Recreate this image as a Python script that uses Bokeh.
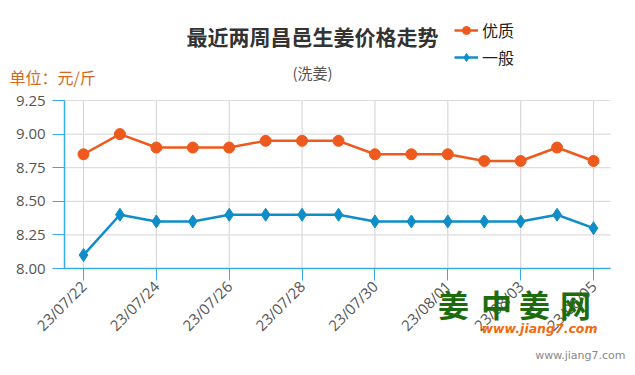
import math
from bokeh.plotting import figure
from bokeh.models import (Label, Legend, LegendItem, FixedTicker, Range1d,
                          NumeralTickFormatter)
from bokeh.embed import file_html
from bokeh.resources import INLINE

dates = ["23/07/22", "23/07/23", "23/07/24", "23/07/25", "23/07/26", "23/07/27",
         "23/07/28", "23/07/29", "23/07/30", "23/07/31", "23/08/01", "23/08/02",
         "23/08/03", "23/08/04", "23/08/05"]
youzhi = [8.85, 9.00, 8.90, 8.90, 8.90, 8.95, 8.95, 8.95, 8.85, 8.85, 8.85, 8.80, 8.80, 8.90, 8.80]
yiban = [8.10, 8.40, 8.35, 8.35, 8.40, 8.40, 8.40, 8.40, 8.35, 8.35, 8.35, 8.35, 8.35, 8.40, 8.30]
y_ticks = [8.00, 8.25, 8.50, 8.75, 9.00, 9.25]

ORANGE = "#ee5a1d"
BLUE = "#0e8dc8"
AXIS = "#35ade2"
CJK = "Noto Sans CJK SC"

xs = list(range(len(dates)))
x_ticks = xs[::2]
X_LO, X_HI = -0.52, 14.47
Y_LO, Y_HI = y_ticks[0], y_ticks[-1]

# pixel <-> data helpers for placing annotations (frame covers whole canvas)
PX0, PXD = 83.0, 36.43   # px of x=0, px per day
PY0, PYD = 268.0, 134.4  # px of y=8.00, px per 1.0

def X(px):
    return (px - PX0) / PXD

def Y(py):
    return Y_LO + (PY0 - py) / PYD

p = figure(width=635, height=375, output_backend="svg", toolbar_location=None,
           x_range=Range1d(X(0), X(635)), y_range=Range1d(Y(375), Y(0)),
           min_border=0)
p.outline_line_color = None
p.background_fill_color = "white"
p.border_fill_color = "white"
p.xgrid.visible = False
p.ygrid.visible = False

# grid lines limited to the plotting area
p.segment(x0=x_ticks, y0=[Y_LO] * len(x_ticks), x1=x_ticks, y1=[Y_HI] * len(x_ticks),
          line_color="#d8d8d8", line_width=1.2, level="underlay")
p.segment(x0=[X_LO] * len(y_ticks), y0=y_ticks, x1=[X_HI] * len(y_ticks), y1=y_ticks,
          line_color="#dddddd", line_width=1.2, level="underlay")

# axes
xa, ya = p.xaxis[0], p.yaxis[0]
xa.fixed_location = Y_LO
ya.fixed_location = X_LO
xa.bounds = (X_LO, X_HI)
ya.bounds = (Y_LO, Y_HI)
xa.ticker = FixedTicker(ticks=x_ticks)
xa.major_label_overrides = {i: dates[i] for i in xs}
xa.major_label_orientation = math.pi / 4
ya.ticker = FixedTicker(ticks=y_ticks)
ya.formatter = NumeralTickFormatter(format="0.00")
for ax in (xa, ya):
    ax.axis_line_color = AXIS
    ax.axis_line_width = 1.5
    ax.major_tick_line_color = AXIS
    ax.major_tick_out = 12
    ax.major_tick_in = 0
    ax.minor_tick_line_color = None
    ax.major_label_text_color = "#555555"
    ax.major_label_text_font = "Open Sans"
    ax.major_label_text_font_size = "15px"
    ax.major_label_standoff = 3
ya.major_label_standoff = 7

l1 = p.line(xs, youzhi, line_color=ORANGE, line_width=2.5)
s1 = p.scatter(xs, youzhi, marker="circle", size=11, fill_color=ORANGE, line_color=ORANGE)
l2 = p.line(xs, yiban, line_color=BLUE, line_width=2.5)
s2 = p.scatter(xs, yiban, marker="diamond", size=13, fill_color=BLUE, line_color=BLUE)

legend = Legend(items=[LegendItem(label="优质", renderers=[l1, s1]),
                       LegendItem(label="一般", renderers=[l2, s2])],
                location=(454, 375 - 69), orientation="vertical",
                padding=0, margin=0, spacing=3, glyph_width=24, glyph_height=20,
                label_standoff=4, label_text_font=CJK, label_text_font_size="16px",
                label_text_color="#222222", border_line_color=None,
                background_fill_alpha=0)
p.add_layout(legend, "center")

p.add_layout(Label(x=X(312), y=Y(35), text="最近两周昌邑生姜价格走势", text_font=CJK,
                   text_font_size="21px", text_font_style="bold", text_color="#333333",
                   text_align="center", text_baseline="middle"))
p.add_layout(Label(x=X(312), y=Y(72), text="(洗姜)", text_font=CJK,
                   text_font_size="15px", text_color="#555555",
                   text_align="center", text_baseline="middle"))
p.add_layout(Label(x=X(9), y=Y(76), text="单位：元/斤", text_font=CJK,
                   text_font_size="16px", text_color="#d2691e",
                   text_align="left", text_baseline="middle"))
# watermark logo
logo_chars = ["姜", "中", "姜", "网"]
logo_cx = [453, 496, 534, 575]
for ch, cx in zip(logo_chars, logo_cx):
    p.add_layout(Label(x=X(cx), y=Y(303), text=ch, text_font=CJK,
                       text_font_size="31px", text_font_style="bold", text_color="#1e6b0e",
                       text_align="center", text_baseline="middle"))
p.add_layout(Label(x=X(481), y=Y(328), text="www.jiang7.com", text_font="DejaVu Sans",
                   text_font_size="12.5px", text_font_style="bold italic", text_color="#f26a10",
                   text_align="left", text_baseline="middle"))
p.add_layout(Label(x=X(625), y=Y(355), text="www.jiang7.com", text_font="DejaVu Sans",
                   text_font_size="11px", text_color="#888888",
                   text_align="right", text_baseline="middle"))

open("out.html", "w").write(file_html(p, INLINE))
